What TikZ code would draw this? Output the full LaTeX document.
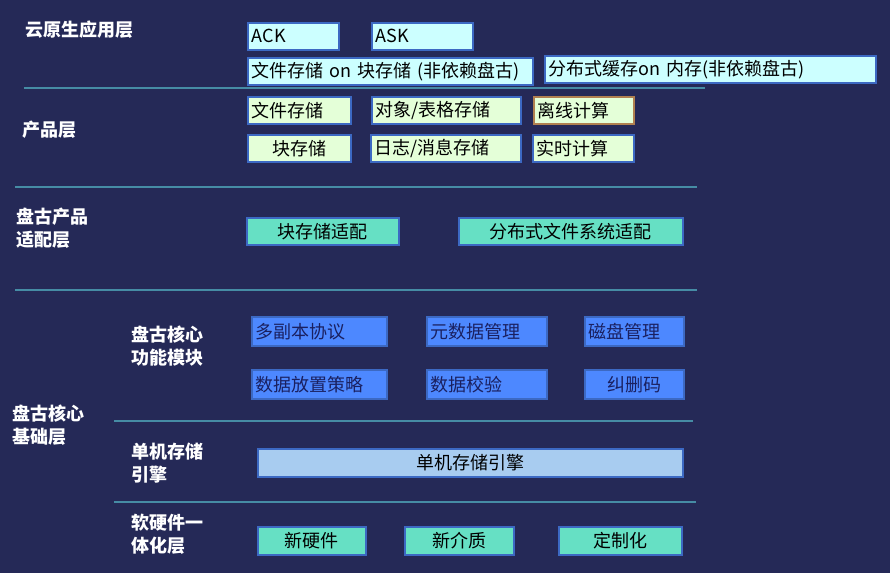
\documentclass[tikz,border=0pt]{standalone}
\usepackage{xcolor}
\usepackage{fontspec}
\usepackage{tikz}
\setmainfont{Noto Sans CJK SC}

\definecolor{bgnavy}{RGB}{37,41,87}
\definecolor{appfill}{RGB}{204,255,255}
\definecolor{prodfill}{RGB}{228,255,216}
\definecolor{adaptfill}{RGB}{102,224,196}
\definecolor{corefill}{RGB}{77,136,255}
\definecolor{enginefill}{RGB}{168,204,240}
\definecolor{boxedge}{RGB}{60,105,195}
\definecolor{offedge}{RGB}{176,128,80}
\definecolor{coretext}{RGB}{26,32,96}
\definecolor{divteal}{RGB}{70,140,165}

\begin{document}
\begin{tikzpicture}[x=1pt,y=-1pt,
			box/.style={draw=boxedge,line width=1.5pt,anchor=north west,inner xsep=4pt,inner ysep=0pt,
				minimum height=27pt,font=\fontsize{18}{22}\selectfont,text=black},
			app box/.style={box,fill=appfill,align=left},
			prod box/.style={box,fill=prodfill,align=left},
			adapt box/.style={box,fill=adaptfill,align=center},
			core box/.style={box,fill=corefill,align=left,text=coretext,minimum height=29pt},
			engine box/.style={box,fill=enginefill,align=center,minimum height=28pt},
			hw box/.style={box,fill=adaptfill,align=center,minimum height=28pt},
			layer/.style={anchor=west,inner sep=0pt,align=left,text=white,
				font=\fontsize{18}{23}\selectfont\bfseries},
			divider/.style={draw=divteal,line width=2pt}]
			\useasboundingbox (0,0) rectangle (890,573);
			\fill[bgnavy] (0,0) rectangle (890,573);
			
			% layer names
			\node[layer] (l1) at (25,30) {云原生应用层};
			\node[layer] (l2) at (22,130) {产品层};
			\node[layer] (l3) at (16,228) {盘古产品\\适配层};
			\node[layer] (l4) at (12,425) {盘古核心\\基础层};
			\node[layer] (l41) at (131,346) {盘古核心\\功能模块};
			\node[layer] (l42) at (131,463) {单机存储\\引擎};
			\node[layer] (l43) at (131,534) {软硬件一\\体化层};
			
			% dividers
			\draw[divider] (24,88) -- (705,88);
			\draw[divider] (15,187) -- (697,187);
			\draw[divider] (15,290) -- (697,290);
			\draw[divider] (114,421) -- (693,421);
			\draw[divider] (114,502) -- (696,502);
			
			% cloud native apps
			\node[app box,text width=83pt] (ack) at (247,22) {ACK};
			\node[app box,text width=93pt] (ask) at (371,22) {ASK};
			\node[app box,text width=277pt] (fsonblk) at (247,57) {文件存储 on 块存储 (非依赖盘古)};
			\node[app box,text width=323pt] (cache) at (544,55) {分布式缓存on 内存(非依赖盘古)};
			
			% products
			\node[prod box,text width=95pt] (fs) at (247,96) {文件存储};
			\node[prod box,text width=141pt] (obj) at (371,96) {对象/表格存储};
			\node[prod box,text width=92pt,draw=offedge] (offline) at (533,96) {离线计算};
			\node[prod box,text width=95pt,align=center] (blk) at (247,134) {块存储};
			\node[prod box,text width=142pt] (log) at (370,134) {日志/消息存储};
			\node[prod box,text width=93pt] (rt) at (532,134) {实时计算};
			
			% pangu adaptation
			\node[adapt box,text width=144pt] (blkad) at (246,217) {块存储适配};
			\node[adapt box,text width=216pt] (dfsad) at (458,217) {分布式文件系统适配};
			
			% pangu core modules
			\node[core box,text width=127pt] (rep) at (251,316) {多副本协议};
			\node[core box,text width=112pt] (meta) at (426,316) {元数据管理};
			\node[core box,text width=91pt] (disk) at (584,316) {磁盘管理};
			\node[core box,text width=127pt] (place) at (251,369) {数据放置策略};
			\node[core box,text width=112pt] (chk) at (426,369) {数据校验};
			\node[core box,text width=91pt,align=center] (ec) at (584,369) {纠删码};
			
			% single node engine
			\node[engine box,text width=417pt] (eng) at (257,448) {单机存储引擎};
			
			% hardware
			\node[hw box,text width=100pt] (newhw) at (257,526) {新硬件};
			\node[hw box,text width=101pt] (media) at (404,526) {新介质};
			\node[hw box,text width=115pt] (custom) at (558,526) {定制化};
		\end{tikzpicture}
\end{document}
